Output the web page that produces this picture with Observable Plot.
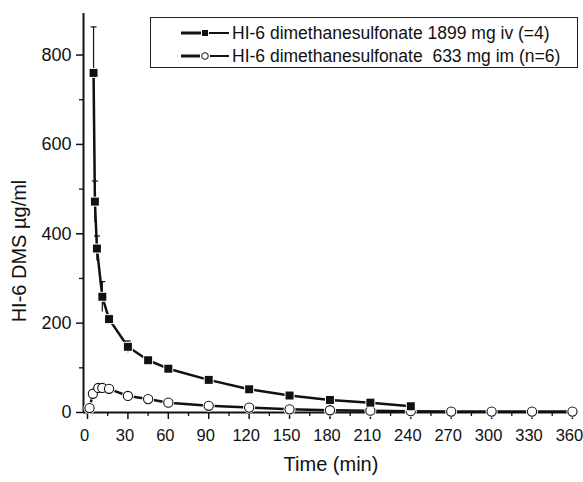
<!DOCTYPE html>
<html>
<head>
<meta charset="utf-8">
<script src="https://cdn.jsdelivr.net/npm/d3@7"></script>
<script src="https://cdn.jsdelivr.net/npm/@observablehq/plot@0.6"></script>
<style>
  html, body { margin: 0; padding: 0; background: #fff; }
  #wrap { position: relative; width: 583px; height: 482px; font-family: "Liberation Sans", Arial, sans-serif; }
  #legend { position: absolute; left: 150px; top: 17px; width: 428px; height: 51px; border: 1px solid #222; box-sizing: border-box; font-size: 17.5px; color: #111; }
  #legend .row { position: absolute; left: 30px; height: 20px; display: flex; align-items: center; white-space: pre; }
  #legend svg { margin-right: 3px; }
</style>
</head>
<body>
<div id="wrap"></div>
<script>
// ---- data ----
const seriesNames = [
  "HI-6 dimethanesulfonate 1899 mg iv (=4)",
  "HI-6 dimethanesulfonate  633 mg im (n=6)"
];
const ivTime = [4.5, 5.5, 7, 11, 16, 30, 45, 60, 90, 120, 150, 180, 210, 240];
const ivMean = [760, 472, 367, 259, 209, 147, 117, 98, 73, 52, 38, 28, 22, 14];
const ivErr  = [103, 46, 28, 34, 10, 13, 6, 6, 4, 4, 3, 3, 3, 3];

const imTime = [1.5, 4, 8, 11, 16, 30, 45, 60, 90, 120, 150, 180, 210, 240, 270, 300, 330, 360];
const imMean = [10, 42, 55, 55, 53, 37, 30, 22, 15, 11, 7, 5, 4, 3, 2, 2, 2, 2];
const imErr  = [4, 8, 6, 6, 5, 4, 3, 3, 3, 3, 3, 3, 3, 3, 3, 3, 3, 3];

const xMajorTicks = [0, 30, 60, 90, 120, 150, 180, 210, 240, 270, 300, 330, 360];
const xMinorTicks = [15, 45, 75, 105, 135, 165, 195, 225, 255, 285, 315, 345];
const yMajorTicks = [0, 200, 400, 600, 800];
const yMinorTicks = [100, 300, 500, 700];

const xTitle = "Time (min)";
const yTitle = "HI-6 DMS µg/ml";

const iv = ivTime.map((t, i) => ({t, v: ivMean[i], e: ivErr[i]}));
const im = imTime.map((t, i) => ({t, v: imMean[i], e: imErr[i]}));

const capSymbol = {
  draw(context, size) {
    const w = Math.sqrt(size) / 2;
    context.moveTo(-w, 0);
    context.lineTo(w, 0);
  }
};

const font = "'Liberation Sans', Arial, sans-serif";

const chart = Plot.plot({
  width: 583,
  height: 482,
  marginLeft: 83,
  marginRight: 5,
  marginTop: 13,
  marginBottom: 70,
  style: {fontFamily: font, background: "white", color: "#111"},
  x: {domain: [-2.97, 364.5]},
  y: {domain: [0, 893]},
  marks: [
    // axis lines
    Plot.ruleX([-2.97], {stroke: "#111", strokeWidth: 2}),
    Plot.ruleY([0], {stroke: "#111", strokeWidth: 2}),
    Plot.axisX({ticks: xMajorTicks, tickSize: 7, text: null, strokeWidth: 1.5, label: null}),
    Plot.text(xMajorTicks, {x: d => d, frameAnchor: "bottom", text: d => String(d), dy: 28, dx: -3, fontSize: 16.5, fill: "#111"}),
    Plot.axisX({ticks: xMinorTicks, tickSize: 4, text: null, strokeWidth: 1.3, label: null}),
    Plot.axisY({ticks: yMajorTicks, tickSize: 7, tickPadding: 5, fontSize: 18, strokeWidth: 1.5, label: null}),
    Plot.axisY({ticks: yMinorTicks, tickSize: 4, text: null, strokeWidth: 1.3, label: null}),
    Plot.text([xTitle], {frameAnchor: "bottom", text: d => d, dy: 58, fontSize: 20, fill: "#111"}),
    Plot.text([yTitle], {frameAnchor: "left", textAnchor: "middle", text: d => d, rotate: -90, dx: -64, dy: 38, fontSize: 20, fill: "#111"}),
    // im series
    Plot.ruleX(im, {x: "t", y1: d => d.v - d.e, y2: d => d.v + d.e, stroke: "#111", strokeWidth: 1}),
    Plot.dot(im, {x: "t", y: d => d.v + d.e, symbol: capSymbol, r: 3.4, stroke: "#111", strokeWidth: 1}),
    Plot.line(im, {x: "t", y: "v", stroke: "#111", strokeWidth: 2.5}),
    Plot.dot(im, {x: "t", y: "v", r: 6, fill: "white", stroke: "none"}),
    Plot.dot(im, {x: "t", y: "v", r: 4.6, fill: "white", stroke: "#111", strokeWidth: 1.1}),
    // iv series
    Plot.ruleX(iv, {x: "t", y1: d => d.v - d.e, y2: d => d.v + d.e, stroke: "#111", strokeWidth: 1.2}),
    Plot.dot(iv, {x: "t", y: d => d.v + d.e, symbol: capSymbol, r: 3.4, stroke: "#111", strokeWidth: 1.2}),
    Plot.line(iv, {x: "t", y: "v", stroke: "#111", strokeWidth: 2.5}),
    Plot.dot(iv, {x: "t", y: "v", symbol: "square", r: 5.6, fill: "white", stroke: "none"}),
    Plot.dot(iv, {x: "t", y: "v", symbol: "square", r: 4.5, fill: "#111", stroke: "none"})
  ]
});

const wrap = document.getElementById("wrap");
wrap.appendChild(chart);

// legend
const legend = document.createElement("div");
legend.id = "legend";
const symbols = [
  `<svg width="48" height="12"><line x1="0" y1="6" x2="20" y2="6" stroke="#111" stroke-width="3"/><rect x="21" y="3" width="6" height="6" fill="#111"/><line x1="28" y1="6" x2="48" y2="6" stroke="#111" stroke-width="2"/></svg>`,
  `<svg width="48" height="12"><line x1="0" y1="6" x2="19" y2="6" stroke="#111" stroke-width="3"/><circle cx="24" cy="6" r="3.3" fill="white" stroke="#111" stroke-width="1"/><line x1="29" y1="6" x2="48" y2="6" stroke="#111" stroke-width="2"/></svg>`
];
seriesNames.forEach((name, i) => {
  const row = document.createElement("div");
  row.className = "row";
  row.style.top = (i === 0 ? 5 : 28) + "px";
  row.innerHTML = symbols[i];
  const span = document.createElement("span");
  span.textContent = name;
  row.appendChild(span);
  legend.appendChild(row);
});
wrap.appendChild(legend);
</script>
</body>
</html>
